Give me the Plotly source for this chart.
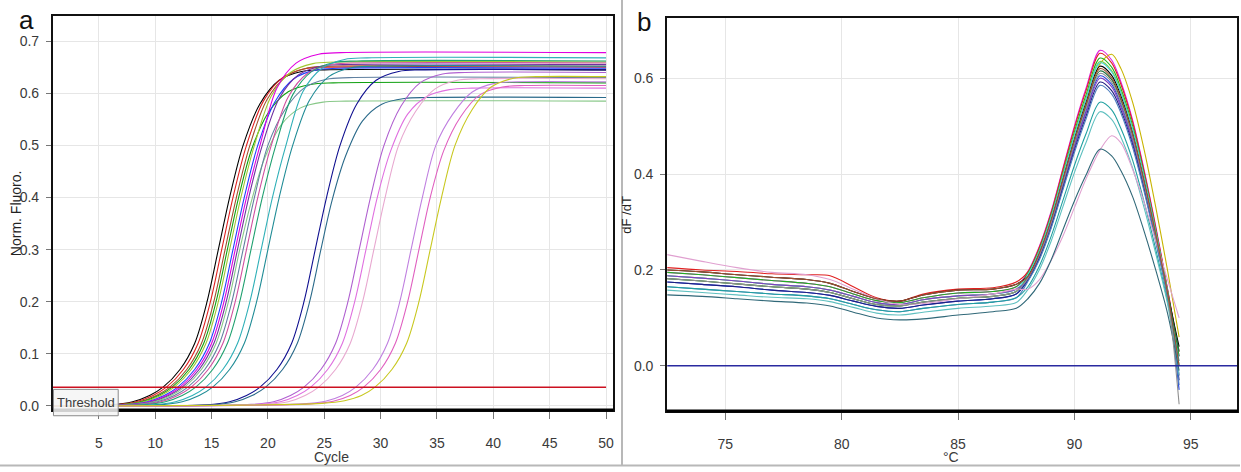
import plotly.graph_objects as go

W, H = 1241, 472

# ---------------- Panel a: amplification curves ----------------
a_colors = ["#000000", "#e02020", "#a0522d", "#10a010", "#a0c830", "#2040ff", "#e000e0",
            "#7030a0", "#88c888", "#6080a0", "#d050a0", "#20a070", "#30b0b8", "#208c96",
            "#101090", "#2a6a8a", "#b060d0", "#e070e0", "#e8a8d0", "#c080e0", "#e060c0", "#c8c820"]

a_cycles = [
    [1, 6, 8, 9.5, 10.7, 12.2, 13.5, 14.6, 15.6, 16.6, 17.8, 19.3, 21, 23, 25, 50],
    [1, 6.3, 8.3, 9.8, 11.0, 12.5, 13.8, 14.9, 15.9, 16.9, 18.1, 19.6, 21.3, 23.3, 25.3, 50],
    [1, 6.6, 8.6, 10.1, 11.3, 12.8, 14.1, 15.2, 16.2, 17.2, 18.4, 19.9, 21.6, 23.6, 25.6, 50],
    [1, 6.8, 8.8, 10.3, 11.5, 13.0, 14.3, 15.4, 16.4, 17.4, 18.6, 20.1, 21.8, 23.8, 25.8, 50],
    [1, 7, 9, 10.5, 11.7, 13.2, 14.5, 15.6, 16.6, 17.6, 18.8, 20.3, 22, 24, 26, 50],
    [1, 7.3, 9.3, 10.8, 12.0, 13.5, 14.8, 15.9, 16.9, 17.9, 19.1, 20.6, 22.3, 24.3, 26.3, 50],
    [1, 7.5, 9.5, 11, 12.2, 13.7, 15, 16.1, 17.1, 18.1, 19.3, 20.8, 22.5, 24.5, 26.5, 50],
    [1, 7.7, 9.7, 11.2, 12.4, 13.9, 15.2, 16.3, 17.3, 18.3, 19.5, 21, 22.7, 24.7, 26.7, 50],
    [1, 7.9, 9.9, 11.4, 12.6, 14.1, 15.4, 16.5, 17.5, 18.5, 19.7, 21.2, 22.9, 24.9, 26.9, 50],
    [1, 8.2, 10.2, 11.7, 12.9, 14.4, 15.7, 16.8, 17.8, 18.8, 20, 21.5, 23.2, 25.2, 27.2, 50],
    [1, 8.5, 10.5, 12, 13.2, 14.7, 16, 17.1, 18.1, 19.1, 20.3, 21.8, 23.5, 25.5, 27.5, 50],
    [1, 8.9, 10.9, 12.4, 13.6, 15.1, 16.4, 17.5, 18.5, 19.5, 20.7, 22.2, 23.9, 25.9, 27.9, 50],
    [1, 9.8, 11.8, 13.3, 14.5, 16, 17.3, 18.4, 19.4, 20.4, 21.6, 23.1, 24.8, 26.8, 28.8, 50],
    [1, 10.4, 12.4, 13.9, 15.1, 16.6, 17.9, 19, 20, 21, 22.2, 23.7, 25.4, 27.4, 29.4, 50],
    [1, 14.6, 16.6, 18.1, 19.3, 20.8, 22.1, 23.2, 24.2, 25.2, 26.4, 27.9, 29.6, 31.6, 33.6, 50],
    [1, 15.1, 17.1, 18.6, 19.8, 21.3, 22.6, 23.7, 24.7, 25.7, 26.9, 28.4, 30.1, 32.1, 34.1, 50],
    [1, 18.5, 20.5, 22, 23.2, 24.7, 26, 27.1, 28.1, 29.1, 30.3, 31.8, 33.5, 35.5, 37.5, 50],
    [1, 19.1, 21.1, 22.6, 23.8, 25.3, 26.6, 27.7, 28.7, 29.7, 30.9, 32.4, 34.1, 36.1, 38.1, 50],
    [1, 19.8, 21.8, 23.3, 24.5, 26, 27.3, 28.4, 29.4, 30.4, 31.6, 33.1, 34.8, 36.8, 38.8, 50],
    [1, 23.1, 25.1, 26.6, 27.8, 29.3, 30.6, 31.7, 32.7, 33.7, 34.9, 36.4, 38.1, 40.1, 42.1, 50],
    [1, 23.8, 25.8, 27.3, 28.5, 30, 31.3, 32.4, 33.4, 34.4, 35.6, 37.1, 38.8, 40.8, 42.8, 50],
    [1, 24.8, 26.8, 28.3, 29.5, 31, 32.3, 33.4, 34.4, 35.4, 36.6, 38.1, 39.8, 41.8, 43.8, 50],
]

a_values = [
    [0, 0.002, 0.008, 0.02, 0.036, 0.07, 0.12, 0.2, 0.3, 0.4, 0.5, 0.58, 0.625, 0.642, 0.645, 0.645],
    [0, 0.002, 0.008, 0.02, 0.036, 0.07, 0.12, 0.2, 0.3, 0.4, 0.5, 0.585, 0.63, 0.647, 0.65, 0.65],
    [0, 0.002, 0.008, 0.02, 0.036, 0.07, 0.12, 0.2, 0.3, 0.4, 0.5, 0.587, 0.632, 0.649, 0.652, 0.652],
    [0, 0.002, 0.008, 0.02, 0.036, 0.07, 0.12, 0.2, 0.3, 0.4, 0.495, 0.565, 0.603, 0.617, 0.62, 0.62],
    [0, 0.002, 0.008, 0.02, 0.036, 0.07, 0.12, 0.2, 0.3, 0.4, 0.5, 0.595, 0.64, 0.657, 0.66, 0.66],
    [0, 0.002, 0.008, 0.02, 0.036, 0.07, 0.12, 0.2, 0.3, 0.4, 0.5, 0.583, 0.628, 0.645, 0.648, 0.648],
    [0, 0.002, 0.008, 0.02, 0.036, 0.07, 0.12, 0.2, 0.3, 0.4, 0.5, 0.61, 0.658, 0.675, 0.678, 0.678],
    [0, 0.002, 0.008, 0.02, 0.036, 0.07, 0.12, 0.2, 0.3, 0.4, 0.5, 0.59, 0.635, 0.652, 0.655, 0.655],
    [0, 0.002, 0.008, 0.02, 0.036, 0.07, 0.12, 0.2, 0.3, 0.39, 0.475, 0.54, 0.572, 0.583, 0.585, 0.585],
    [0, 0.002, 0.008, 0.02, 0.036, 0.07, 0.12, 0.2, 0.3, 0.4, 0.5, 0.568, 0.61, 0.627, 0.63, 0.63],
    [0, 0.002, 0.008, 0.02, 0.036, 0.07, 0.12, 0.2, 0.3, 0.4, 0.5, 0.593, 0.638, 0.655, 0.658, 0.658],
    [0, 0.002, 0.008, 0.02, 0.036, 0.07, 0.12, 0.2, 0.3, 0.4, 0.5, 0.597, 0.642, 0.659, 0.662, 0.662],
    [0, 0.002, 0.008, 0.02, 0.036, 0.07, 0.12, 0.2, 0.3, 0.4, 0.5, 0.603, 0.648, 0.665, 0.668, 0.668],
    [0, 0.002, 0.008, 0.02, 0.036, 0.07, 0.12, 0.2, 0.3, 0.4, 0.5, 0.587, 0.632, 0.649, 0.652, 0.652],
    [0, 0.002, 0.008, 0.02, 0.036, 0.07, 0.12, 0.2, 0.3, 0.4, 0.5, 0.58, 0.625, 0.642, 0.645, 0.645],
    [0, 0.002, 0.008, 0.02, 0.036, 0.07, 0.12, 0.2, 0.3, 0.395, 0.48, 0.547, 0.579, 0.59, 0.592, 0.592],
    [0, 0.003, 0.008, 0.02, 0.036, 0.07, 0.12, 0.2, 0.3, 0.4, 0.5, 0.575, 0.62, 0.637, 0.64, 0.64],
    [0, 0.003, 0.008, 0.02, 0.036, 0.07, 0.12, 0.2, 0.3, 0.4, 0.49, 0.56, 0.594, 0.607, 0.61, 0.61],
    [0, 0.003, 0.008, 0.02, 0.036, 0.07, 0.12, 0.2, 0.3, 0.4, 0.5, 0.565, 0.608, 0.625, 0.628, 0.628],
    [0, 0.004, 0.009, 0.02, 0.036, 0.07, 0.12, 0.2, 0.3, 0.4, 0.5, 0.56, 0.602, 0.619, 0.622, 0.622],
    [0, 0.004, 0.009, 0.02, 0.036, 0.07, 0.12, 0.2, 0.3, 0.4, 0.49, 0.555, 0.597, 0.612, 0.615, 0.615],
    [0, 0.005, 0.01, 0.02, 0.036, 0.07, 0.12, 0.2, 0.3, 0.4, 0.5, 0.568, 0.612, 0.629, 0.632, 0.632],
]

threshold_value = 0.036
a_xticks = [5, 10, 15, 20, 25, 30, 35, 40, 45, 50]
a_yticks = [0.0, 0.1, 0.2, 0.3, 0.4, 0.5, 0.6, 0.7]

# ---------------- Panel b: melt curves ----------------
b_temps = [72.5, 74, 75.5, 77, 78.5, 79.5, 80.5, 81.5, 82.5, 83.5, 85, 86.5, 87.5,
           88, 88.5, 89, 89.5, 90, 90.5, 91.1, 91.6, 92, 92.5, 93, 93.5, 94, 94.5]

b_colors = ["#e020e0", "#e02020", "#c8b400", "#20b020", "#80d040", "#000000", "#40d0e0",
            "#207040", "#2040e0", "#8040c0", "#202080", "#5080c0", "#20a0a0", "#60c0c0",
            "#e0a0d0", "#306878", "#909090", "#a05030"]

b_values = [
    [0.195, 0.19, 0.184, 0.178, 0.172, 0.165, 0.15, 0.136, 0.132, 0.142, 0.152, 0.155, 0.165,
     0.197, 0.25, 0.322, 0.411, 0.5, 0.579, 0.658, 0.638, 0.592, 0.513, 0.408, 0.29, 0.161, 0.02],
    [0.205, 0.2, 0.197, 0.192, 0.19, 0.188, 0.165, 0.142, 0.135, 0.15, 0.16, 0.163, 0.175,
     0.196, 0.248, 0.319, 0.408, 0.496, 0.574, 0.652, 0.632, 0.587, 0.509, 0.404, 0.287, 0.16, 0.03],
    [0.188, 0.183, 0.177, 0.17, 0.165, 0.158, 0.145, 0.132, 0.128, 0.138, 0.146, 0.15, 0.16,
     0.18, 0.225, 0.29, 0.375, 0.46, 0.545, 0.63, 0.65, 0.62, 0.55, 0.45, 0.33, 0.2, 0.06],
    [0.195, 0.19, 0.184, 0.178, 0.172, 0.165, 0.15, 0.136, 0.132, 0.142, 0.152, 0.155, 0.165,
     0.193, 0.244, 0.315, 0.401, 0.488, 0.565, 0.642, 0.623, 0.578, 0.501, 0.398, 0.282, 0.157, 0.02],
    [0.182, 0.177, 0.171, 0.165, 0.16, 0.153, 0.14, 0.128, 0.125, 0.133, 0.141, 0.145, 0.155,
     0.19, 0.241, 0.311, 0.397, 0.483, 0.559, 0.635, 0.616, 0.572, 0.495, 0.394, 0.279, 0.156, 0.0],
    [0.2, 0.196, 0.19, 0.185, 0.18, 0.172, 0.155, 0.14, 0.135, 0.148, 0.158, 0.16, 0.17,
     0.188, 0.238, 0.306, 0.391, 0.475, 0.55, 0.625, 0.606, 0.563, 0.488, 0.388, 0.275, 0.153, 0.04],
    [0.188, 0.183, 0.177, 0.17, 0.165, 0.158, 0.145, 0.132, 0.128, 0.138, 0.146, 0.15, 0.16,
     0.19, 0.24, 0.31, 0.395, 0.48, 0.556, 0.632, 0.613, 0.569, 0.493, 0.392, 0.278, 0.155, 0.0],
    [0.182, 0.177, 0.171, 0.165, 0.16, 0.153, 0.14, 0.128, 0.125, 0.133, 0.141, 0.145, 0.155,
     0.185, 0.234, 0.301, 0.384, 0.467, 0.541, 0.615, 0.597, 0.554, 0.48, 0.381, 0.271, 0.151, 0.03],
    [0.175, 0.17, 0.165, 0.158, 0.153, 0.147, 0.135, 0.124, 0.12, 0.127, 0.135, 0.14, 0.15,
     0.182, 0.23, 0.296, 0.378, 0.46, 0.532, 0.605, 0.587, 0.545, 0.472, 0.375, 0.266, 0.148, -0.05],
    [0.188, 0.183, 0.177, 0.17, 0.165, 0.158, 0.145, 0.132, 0.128, 0.138, 0.146, 0.15, 0.16,
     0.18, 0.228, 0.294, 0.375, 0.456, 0.528, 0.6, 0.582, 0.54, 0.468, 0.372, 0.264, 0.147, -0.02],
    [0.175, 0.17, 0.165, 0.158, 0.153, 0.147, 0.135, 0.124, 0.12, 0.127, 0.135, 0.14, 0.15,
     0.178, 0.225, 0.29, 0.37, 0.45, 0.521, 0.592, 0.574, 0.533, 0.462, 0.367, 0.26, 0.145, -0.03],
    [0.165, 0.16, 0.155, 0.15, 0.146, 0.14, 0.128, 0.117, 0.113, 0.12, 0.128, 0.133, 0.142,
     0.176, 0.222, 0.287, 0.366, 0.445, 0.515, 0.585, 0.567, 0.527, 0.456, 0.363, 0.257, 0.143, -0.04],
    [0.165, 0.16, 0.155, 0.15, 0.146, 0.14, 0.128, 0.117, 0.113, 0.12, 0.128, 0.133, 0.142,
     0.165, 0.209, 0.27, 0.344, 0.418, 0.484, 0.55, 0.534, 0.495, 0.429, 0.341, 0.242, 0.135, 0.01],
    [0.158, 0.153, 0.148, 0.143, 0.14, 0.134, 0.122, 0.11, 0.106, 0.112, 0.12, 0.125, 0.132,
     0.159, 0.201, 0.26, 0.331, 0.403, 0.466, 0.53, 0.514, 0.477, 0.413, 0.329, 0.233, 0.13, -0.02],
    [0.232, 0.218, 0.205, 0.195, 0.19, 0.18, 0.16, 0.14, 0.128, 0.13, 0.14, 0.15, 0.16,
     0.16, 0.18, 0.22, 0.27, 0.33, 0.39, 0.45, 0.48, 0.465, 0.41, 0.34, 0.26, 0.18, 0.1],
    [0.148, 0.145, 0.14, 0.135, 0.131, 0.125, 0.112, 0.1, 0.096, 0.098, 0.106, 0.113, 0.12,
     0.14, 0.172, 0.221, 0.283, 0.344, 0.398, 0.452, 0.438, 0.407, 0.353, 0.28, 0.199, 0.11, -0.01],
    [0.182, 0.177, 0.171, 0.165, 0.16, 0.153, 0.14, 0.128, 0.125, 0.133, 0.141, 0.145, 0.155,
     0.183, 0.232, 0.299, 0.381, 0.464, 0.537, 0.61, 0.592, 0.549, 0.476, 0.378, 0.268, 0.149, -0.08],
    [0.2, 0.196, 0.19, 0.185, 0.18, 0.172, 0.155, 0.14, 0.135, 0.148, 0.158, 0.16, 0.17,
     0.186, 0.236, 0.304, 0.388, 0.471, 0.546, 0.62, 0.601, 0.558, 0.484, 0.384, 0.273, 0.152, 0.0],
]

b_xticks = [75, 80, 85, 90, 95]
b_yticks = [0.0, 0.2, 0.4, 0.6]

# ---------------- Figure ----------------
fig = go.Figure()

for xs, ys, col in zip(a_cycles, a_values, a_colors):
    fig.add_trace(go.Scatter(x=xs, y=ys, mode="lines", xaxis="x", yaxis="y",
                             line=dict(color=col, width=1.1, shape="spline", smoothing=0.9),
                             hoverinfo="skip", showlegend=False))

fig.add_trace(go.Scatter(x=[0.93, 50], y=[threshold_value, threshold_value], mode="lines",
                         xaxis="x", yaxis="y", line=dict(color="#cc1020", width=1.5),
                         hoverinfo="skip", showlegend=False))

for ys, col in zip(b_values, b_colors):
    fig.add_trace(go.Scatter(x=b_temps, y=ys, mode="lines", xaxis="x2", yaxis="y2",
                             line=dict(color=col, width=1.1, shape="spline", smoothing=0.9),
                             hoverinfo="skip", showlegend=False))

fig.add_trace(go.Scatter(x=[72.5, 97], y=[0, 0], mode="lines", xaxis="x2", yaxis="y2",
                         line=dict(color="#2a2aa0", width=1.5), hoverinfo="skip", showlegend=False))

tick_font = dict(family="Liberation Sans Narrow, Arial Narrow, Liberation Sans, Arial",
                 size=14, color="#3a3a3a")
title_font = dict(family="Liberation Sans, Arial", size=14, color="#222222")

axis_common = dict(showgrid=True, gridcolor="#e6e6e6", gridwidth=1, zeroline=False,
                   showline=True, linecolor="#111111", linewidth=2, mirror=True,
                   ticks="outside", tickcolor="#777777", tickfont=tick_font)

fig.update_layout(
    width=W, height=H,
    margin=dict(l=0, r=0, t=0, b=0),
    paper_bgcolor="white", plot_bgcolor="white",
    xaxis=dict(domain=[53 / W, 613.3 / W], range=[0.93, 50.6], tickvals=a_xticks,
               anchor="y", ticklabelstandoff=12, ticklen=7, **axis_common),
    yaxis=dict(domain=[1 - 413.3 / H, 1 - 16 / H], range=[-0.0074, 0.7486], tickvals=a_yticks,
               tickformat=".1f", anchor="x", ticklabelstandoff=4, ticklen=5, **axis_common),
    xaxis2=dict(domain=[667.7 / W, 1238.3 / W], range=[72.5, 97.0], tickvals=b_xticks,
                anchor="y2", ticklabelstandoff=12, ticklen=7, **axis_common),
    yaxis2=dict(domain=[1 - 414.3 / H, 1 - 18.3 / H], range=[-0.0937, 0.7253], tickvals=b_yticks,
                tickformat=".1f", anchor="x2", ticklabelstandoff=4, ticklen=5, **axis_common),
)

shapes = [
    # thicker bottom axis lines
    dict(type="line", xref="paper", yref="paper", x0=52 / W, x1=614 / W,
         y0=1 - 413.5 / H, y1=1 - 413.5 / H, line=dict(color="#000000", width=3)),
    dict(type="line", xref="paper", yref="paper", x0=667 / W, x1=1239 / W,
         y0=1 - 414.5 / H, y1=1 - 414.5 / H, line=dict(color="#000000", width=3)),
    # threshold label box
    dict(type="rect", xref="paper", yref="paper", x0=53.5 / W, x1=118.3 / W,
         y0=1 - 419.3 / H, y1=1 - 392.7 / H, fillcolor="rgba(245,245,245,0.85)",
         line=dict(color="#8a8a8a", width=1), layer="above"),
    # separators
    dict(type="line", xref="paper", yref="paper", x0=622.5 / W, x1=622.5 / W,
         y0=1 - 469 / H, y1=1, line=dict(color="#b8b8b8", width=2)),
    dict(type="line", xref="paper", yref="paper", x0=0, x1=1,
         y0=1 - 469.5 / H, y1=1 - 469.5 / H, line=dict(color="#b8b8b8", width=2)),
]
fig.update_layout(shapes=shapes)

ann = [
    dict(text="Threshold", x=86 / W, y=1 - 405.5 / H, font=dict(tick_font, size=13)),
    dict(text="Norm. Fluoro.", x=16 / W, y=1 - 215 / H, textangle=-90, font=dict(title_font, size=14)),
    dict(text="Cycle", x=332 / W, y=1 - 461 / H, font=dict(tick_font, size=14)),
    dict(text="dF /dT", x=627 / W, y=1 - 216 / H, textangle=-90, font=dict(title_font, size=13)),
    dict(text="°C", x=952 / W, y=1 - 461 / H, font=dict(tick_font, size=14)),
    dict(text="a", x=27 / W, y=1 - 20 / H, font=dict(family="Liberation Sans, Arial", size=26, color="#111111")),
    dict(text="b", x=645 / W, y=1 - 22 / H, font=dict(family="Liberation Sans, Arial", size=26, color="#111111")),
]
fig.update_layout(annotations=[dict(a, xref="paper", yref="paper", showarrow=False,
                                     xanchor="center", yanchor="middle") for a in ann])

fig.write_html("out.html")
